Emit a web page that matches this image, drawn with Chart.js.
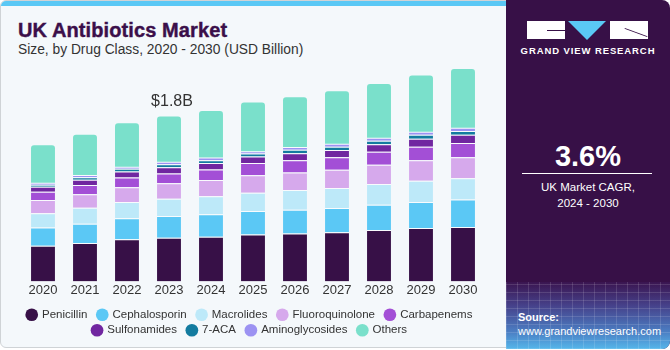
<!DOCTYPE html>
<html>
<head>
<meta charset="utf-8">
<script src="https://cdn.jsdelivr.net/npm/chart.js@4.4.1/dist/chart.umd.min.js"></script>
<style>
  html, body { margin: 0; padding: 0; background: #fff; }
  body { width: 670px; height: 350px; position: relative; overflow: hidden; font-family: "Liberation Sans", Arial, sans-serif; }
  #left {
    position: absolute; left: 0; top: 0; width: 520px; height: 348px;
    background: #f4f8fb; border: 1px solid #cfd3d6; border-radius: 6px; box-sizing: border-box;
    overflow: hidden;
  }
  #topbar { position: absolute; left: 0; top: 0; width: 100%; height: 5px; background: #5ac8f5; }
  #title {
    position: absolute; left: 17px; top: 19px; font-size: 20px; line-height: 20px;
    font-weight: bold; color: #3b0f4a; letter-spacing: 0.1px; -webkit-text-stroke: 0.4px #3b0f4a;
  }
  #subtitle {
    position: absolute; left: 17px; top: 42px; font-size: 13.8px; line-height: 13px; color: #333;
  }
  #chartwrap { position: absolute; left: 0; top: 0; width: 506px; height: 346px; }
  #right {
    position: absolute; left: 506px; top: 0; width: 164px; height: 349px;
    background: #371047; border-radius: 0 8px 8px 0; overflow: hidden; color: #fff;
  }
  #grid {
    position: absolute; left: 0; bottom: 0; width: 100%; height: 67px;
    background:
      repeating-linear-gradient(90deg, rgba(255,255,255,0.13) 0 1px, transparent 1px 11px),
      repeating-linear-gradient(0deg, rgba(255,255,255,0.13) 0 1px, transparent 1px 8px),
      linear-gradient(180deg, #3a1550 0%, #46418a 35%, #4b7fc4 75%, #55b6ea 100%);
  }
  .logo-block { position: absolute; background: #fff; }
  .logo-line { position: absolute; background: #371047; height: 1px; }
  #tri {
    position: absolute; left: 62px; top: 21px; width: 0; height: 0;
    border-left: 19px solid transparent; border-right: 19px solid transparent; border-top: 19px solid #5ac8f5;
  }
  #brand {
    position: absolute; left: 0; width: 164px; top: 45px; text-align: center;
    font-size: 9.5px; font-weight: bold; letter-spacing: 0.9px;
  }
  #cagr { position: absolute; left: 0; width: 164px; top: 141px; text-align: center; font-size: 29px; font-weight: bold; line-height: 30px; }
  #rule { position: absolute; left: 16px; width: 130px; top: 173px; height: 1px; background: #fff; }
  #cagrtxt { position: absolute; left: 0; width: 164px; top: 179px; text-align: center; font-size: 11.5px; line-height: 16px; }
  #source { position: absolute; left: 12px; top: 310px; font-size: 11px; line-height: 14px; }
</style>
</head>
<body>
<div id="left">
  <div id="topbar"></div>
  <div id="title">UK Antibiotics Market</div>
  <div id="subtitle">Size, by Drug Class, 2020 - 2030 (USD Billion)</div>
</div>
<div id="chartwrap"><canvas id="chart" width="506" height="346"></canvas></div>
<div id="right">
  <div class="logo-block" style="left:21px;top:21px;width:38px;height:18px;"></div>
  <div class="logo-line" style="left:41px;top:30px;width:18px;"></div>
  <div id="tri"></div>
  <div class="logo-block" style="left:104px;top:21px;width:38px;height:18px;"></div>
  <div class="logo-line" style="left:118px;top:32px;width:24px;transform:rotate(20deg);"></div>
  <div id="brand">GRAND VIEW RESEARCH</div>
  <div id="cagr">3.6%</div>
  <div id="rule"></div>
  <div id="cagrtxt">UK Market CAGR,<br>2024 - 2030</div>
  <div id="grid"></div>
  <div id="source"><b>Source:</b><br>www.grandviewresearch.com</div>
</div>
<script>
const years = ['2020', '2021', '2022', '2023', '2024', '2025', '2026', '2027', '2028', '2029', '2030'];

// USD billion
const penicillin      = [0.390, 0.420, 0.460, 0.478, 0.490, 0.514, 0.525, 0.537, 0.562, 0.584, 0.596];
const cephalosporin   = [0.200, 0.210, 0.230, 0.237, 0.245, 0.256, 0.260, 0.267, 0.278, 0.286, 0.300];
const macrolides      = [0.155, 0.175, 0.180, 0.189, 0.197, 0.200, 0.215, 0.219, 0.227, 0.233, 0.233];
const fluoroquinolone = [0.145, 0.148, 0.160, 0.171, 0.178, 0.192, 0.192, 0.200, 0.211, 0.222, 0.230];
const carbapenems     = [0.090, 0.103, 0.107, 0.107, 0.115, 0.133, 0.133, 0.137, 0.140, 0.148, 0.156];
const sulfonamides    = [0.055, 0.056, 0.067, 0.067, 0.071, 0.071, 0.078, 0.078, 0.082, 0.089, 0.089];
const aca7            = [0.022, 0.027, 0.030, 0.033, 0.029, 0.033, 0.037, 0.037, 0.040, 0.044, 0.041];
const aminoglycosides = [0.022, 0.026, 0.022, 0.027, 0.030, 0.026, 0.030, 0.033, 0.033, 0.033, 0.037];
const others          = [0.410, 0.440, 0.475, 0.496, 0.510, 0.533, 0.545, 0.574, 0.589, 0.616, 0.644];

const calloutIndex = 3;
const calloutText = '$1.8B';

function seg(label, data, color) {
    return {
        label: label,
        data: data,
        backgroundColor: color,
        borderColor: 'rgba(255,255,255,0.45)',
        borderWidth: {top: 1, left: 0, right: 0, bottom: 0},
        categoryPercentage: 1,
        barPercentage: 0.57
    };
}

const datasets = [
    seg('Penicillin', penicillin, '#371047'),
    seg('Cephalosporin', cephalosporin, '#5bc8f5'),
    seg('Macrolides', macrolides, '#bde9f9'),
    seg('Fluoroquinolone', fluoroquinolone, '#d6a9ec'),
    seg('Carbapenems', carbapenems, '#a34fd6'),
    seg('Sulfonamides', sulfonamides, '#7026a0'),
    seg('7-ACA', aca7, '#137b9f'),
    seg('Aminoglycosides', aminoglycosides, '#9c92f2'),
    seg('Others', others, '#7ae0cb')
];
datasets[8].borderRadius = {topLeft: 3, topRight: 3, bottomLeft: 0, bottomRight: 0};
datasets[8].borderSkipped = false;
datasets[8].borderWidth = 0;

// value label above one bar
const calloutPlugin = {
    id: 'callout',
    afterDatasetsDraw(chart) {
        const meta = chart.getDatasetMeta(chart.data.datasets.length - 1);
        const bar = meta.data[calloutIndex];
        const ctx = chart.ctx;
        ctx.save();
        ctx.font = '16px "Liberation Sans", Arial, sans-serif';
        ctx.fillStyle = '#333';
        ctx.textAlign = 'center';
        ctx.textBaseline = 'alphabetic';
        ctx.fillText(calloutText, bar.x + 3, bar.y - 10);
        ctx.restore();
    }
};

// invisible side axes just to hold the side margins (keeps legend full width)
const sideAxis = (pos) => ({
    position: pos,
    display: true,
    ticks: { display: false },
    grid: { display: false },
    border: { display: false },
    afterFit(scale) { scale.width = 22; }
});

const fontFam = '"Liberation Sans", Arial, sans-serif';

new Chart(document.getElementById('chart').getContext('2d'), {
    type: 'bar',
    data: { labels: years, datasets: datasets },
    plugins: [calloutPlugin],
    options: {
        responsive: false,
        animation: false,
        layout: { padding: { left: 0, right: 0, top: 53, bottom: 0 } },
        scales: {
            x: {
                stacked: true,
                grid: { display: false, drawTicks: false },
                border: { display: false },
                ticks: { color: '#333', padding: 1, font: { size: 13, family: fontFam, lineHeight: 1.2 } }
            },
            y: Object.assign(sideAxis('left'), { stacked: true, min: 0, max: 2.5 }),
            yr: sideAxis('right')
        },
        plugins: {
            tooltip: { enabled: false },
            legend: {
                position: 'bottom',
                title: { display: true, text: '', padding: 0, font: { size: 6, lineHeight: 1 } },
                labels: {
                    usePointStyle: true,
                    pointStyle: 'circle',
                    boxWidth: 9,
                    boxHeight: 9,
                    padding: 4,
                    color: '#333',
                    font: { size: 11.5, family: fontFam },
                    generateLabels(chart) {
                        const items = Chart.defaults.plugins.legend.labels.generateLabels(chart);
                        items.forEach(it => { it.text = it.text + '  '; it.lineWidth = 0; });
                        return items;
                    }
                }
            }
        }
    }
});
</script>
</body>
</html>
